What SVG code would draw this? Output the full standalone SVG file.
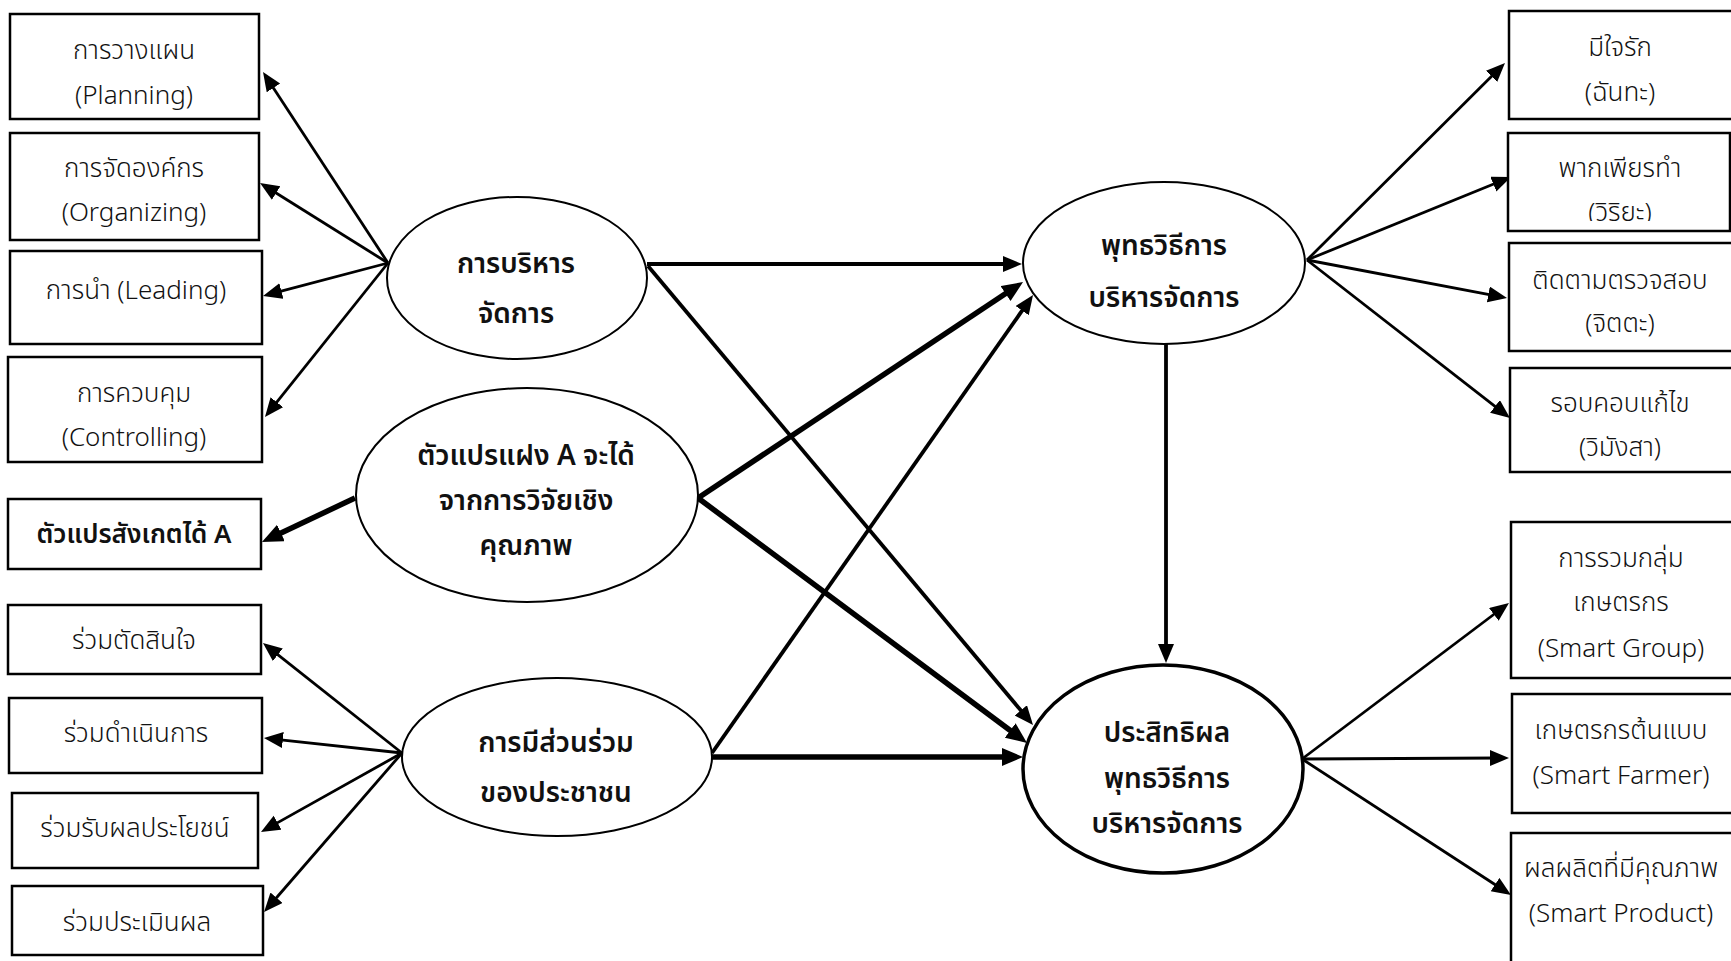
<svg xmlns="http://www.w3.org/2000/svg" width="1731" height="961" viewBox="0 0 1731 961">
<style>
  .box { fill: #fff; stroke: #000; stroke-width: 2.5; }
  .ell { fill: #fff; stroke: #000; stroke-width: 2; }
  .ellb { fill: #fff; stroke: #000; stroke-width: 3.5; }
  .t { font-family: "Noto Sans Thai", "Noto Sans", "DejaVu Sans", sans-serif; font-size: 26px; font-weight: 300; fill: #111; text-anchor: middle; }
  .tb { font-family: "Noto Sans Thai", "Noto Sans", "DejaVu Sans", sans-serif; font-size: 28px; font-weight: 600; fill: #111; text-anchor: middle; }
  .thin { stroke: #000; stroke-width: 2.8; fill: none; marker-end: url(#ah); }
  .med { stroke: #000; stroke-width: 3.8; fill: none; marker-end: url(#ah); }
  .thick { stroke: #000; stroke-width: 5.5; fill: none; marker-end: url(#ahb); }
</style>
<defs>
  <marker id="ah" markerUnits="userSpaceOnUse" markerWidth="22" markerHeight="18" refX="9" refY="8" orient="auto">
    <path d="M0,0 L19,8 L0,16 z" fill="#000"/>
  </marker>
  <marker id="ahb" markerUnits="userSpaceOnUse" markerWidth="24" markerHeight="20" refX="11" refY="9" orient="auto">
    <path d="M0,0 L21,9 L0,18 z" fill="#000"/>
  </marker>
  <clipPath id="clip2"><rect x="1508" y="133" width="223" height="88"/></clipPath>
</defs>
<rect x="0" y="0" width="1731" height="961" fill="#fff"/>

<g id="connectors">
  <line class="thin" x1="388" y1="263" x2="268.5" y2="80.4"/>
  <line class="thin" x1="388" y1="263" x2="268.5" y2="188.3"/>
  <line class="thin" x1="388" y1="263" x2="272.7" y2="293.4"/>
  <line class="thin" x1="388" y1="263" x2="271.2" y2="409.2"/>
  <line class="thin" x1="402" y1="753" x2="270.8" y2="649.2"/>
  <line class="thin" x1="402" y1="753" x2="273.9" y2="739.1"/>
  <line class="thin" x1="402" y1="753" x2="269.7" y2="827.1"/>
  <line class="thin" x1="402" y1="753" x2="270.6" y2="904.5"/>
  <line class="thick" x1="355" y1="498" x2="271" y2="537.7"/>
  <line class="med" x1="647" y1="264" x2="1012" y2="264"/>
  <line class="med" x1="648" y1="266" x2="1026.6" y2="717.3"/>
  <line class="thick" x1="698" y1="498" x2="1014.7" y2="287.5"/>
  <line class="thick" x1="698" y1="498" x2="1019" y2="737"/>
  <line class="med" x1="712" y1="753" x2="1027.3" y2="303.2"/>
  <line class="thick" x1="712" y1="757" x2="1013" y2="757"/>
  <line class="med" x1="1166" y1="344" x2="1166" y2="653"/>
  <line class="thin" x1="1307" y1="260" x2="1497.9" y2="70.1"/>
  <line class="thin" x1="1307" y1="260" x2="1501.7" y2="180.8"/>
  <line class="thin" x1="1307" y1="260" x2="1497.2" y2="296.1"/>
  <line class="thin" x1="1307" y1="260" x2="1502.1" y2="411.9"/>
  <line class="thin" x1="1302" y1="759" x2="1501" y2="609"/>
  <line class="thin" x1="1302" y1="759" x2="1499" y2="758"/>
  <line class="thin" x1="1302" y1="759" x2="1502.6" y2="889.5"/>
</g>

<g id="n-planning"><rect class="box" x="10" y="14" width="249" height="105"/><text class="t" x="134" y="59">การวางแผน</text><text class="t" x="134" y="104">(Planning)</text></g>
<g id="n-organizing"><rect class="box" x="10" y="133" width="249" height="107"/><text class="t" x="134" y="177">การจัดองค์กร</text><text class="t" x="134" y="221">(Organizing)</text></g>
<g id="n-leading"><rect class="box" x="10" y="251" width="252" height="93"/><text class="t" x="136" y="299">การนำ (Leading)</text></g>
<g id="n-controlling"><rect class="box" x="8" y="357" width="254" height="105"/><text class="t" x="134" y="402">การควบคุม</text><text class="t" x="134" y="446">(Controlling)</text></g>
<g id="n-observed-a"><rect class="box" x="8" y="499" width="253" height="70"/><text class="tb" x="134" y="543" style="font-size:26px">ตัวแปรสังเกตได้ A</text></g>
<g id="n-p1"><rect class="box" x="8" y="605" width="253" height="69"/><text class="t" x="134" y="649">ร่วมตัดสินใจ</text></g>
<g id="n-p2"><rect class="box" x="9" y="698" width="253" height="75"/><text class="t" x="136" y="742">ร่วมดำเนินการ</text></g>
<g id="n-p3"><rect class="box" x="12" y="793" width="246" height="75"/><text class="t" x="135" y="837">ร่วมรับผลประโยชน์</text></g>
<g id="n-p4"><rect class="box" x="12" y="886" width="251" height="69"/><text class="t" x="137" y="931">ร่วมประเมินผล</text></g>

<g id="n-management"><ellipse class="ell" cx="517" cy="278" rx="130" ry="81"/><text class="tb" x="516" y="273">การบริหาร</text><text class="tb" x="516" y="323">จัดการ</text></g>
<g id="n-latent-a"><ellipse class="ell" cx="527" cy="495" rx="171" ry="107"/><text class="tb" x="526" y="465">ตัวแปรแฝง A จะได้</text><text class="tb" x="526" y="510">จากการวิจัยเชิง</text><text class="tb" x="526" y="555">คุณภาพ</text></g>
<g id="n-participation"><ellipse class="ell" cx="557" cy="757" rx="155" ry="79"/><text class="tb" x="556" y="752">การมีส่วนร่วม</text><text class="tb" x="556" y="802">ของประชาชน</text></g>
<g id="n-buddhist"><ellipse class="ell" cx="1164" cy="263" rx="141" ry="81"/><text class="tb" x="1164" y="255">พุทธวิธีการ</text><text class="tb" x="1164" y="307">บริหารจัดการ</text></g>
<g id="n-effect"><ellipse class="ellb" cx="1163" cy="769" rx="140" ry="104"/><text class="tb" x="1167" y="742">ประสิทธิผล</text><text class="tb" x="1167" y="788">พุทธวิธีการ</text><text class="tb" x="1167" y="833">บริหารจัดการ</text></g>

<g id="n-chanda"><rect class="box" x="1509" y="11" width="230" height="108"/><text class="t" x="1620" y="56">มีใจรัก</text><text class="t" x="1620" y="101">(ฉันทะ)</text></g>
<g id="n-viriya"><rect class="box" x="1508" y="133" width="222" height="98"/><text class="t" x="1620" y="177">พากเพียรทำ</text><text class="t" x="1620" y="221" clip-path="url(#clip2)">(วิริยะ)</text></g>
<g id="n-citta"><rect class="box" x="1509" y="243" width="230" height="108"/><text class="t" x="1620" y="289">ติดตามตรวจสอบ</text><text class="t" x="1620" y="332">(จิตตะ)</text></g>
<g id="n-vimamsa"><rect class="box" x="1510" y="368" width="230" height="104"/><text class="t" x="1620" y="412">รอบคอบแก้ไข</text><text class="t" x="1620" y="456">(วิมังสา)</text></g>
<g id="n-group"><rect class="box" x="1511" y="522" width="230" height="156"/><text class="t" x="1621" y="567">การรวมกลุ่ม</text><text class="t" x="1621" y="611">เกษตรกร</text><text class="t" x="1621" y="657">(Smart Group)</text></g>
<g id="n-farmer"><rect class="box" x="1512" y="694" width="230" height="119"/><text class="t" x="1621" y="739">เกษตรกรต้นแบบ</text><text class="t" x="1621" y="784">(Smart Farmer)</text></g>
<g id="n-product"><rect class="box" x="1511" y="833" width="230" height="140"/><text class="t" x="1621" y="877">ผลผลิตที่มีคุณภาพ</text><text class="t" x="1621" y="922">(Smart Product)</text></g>
</svg>
